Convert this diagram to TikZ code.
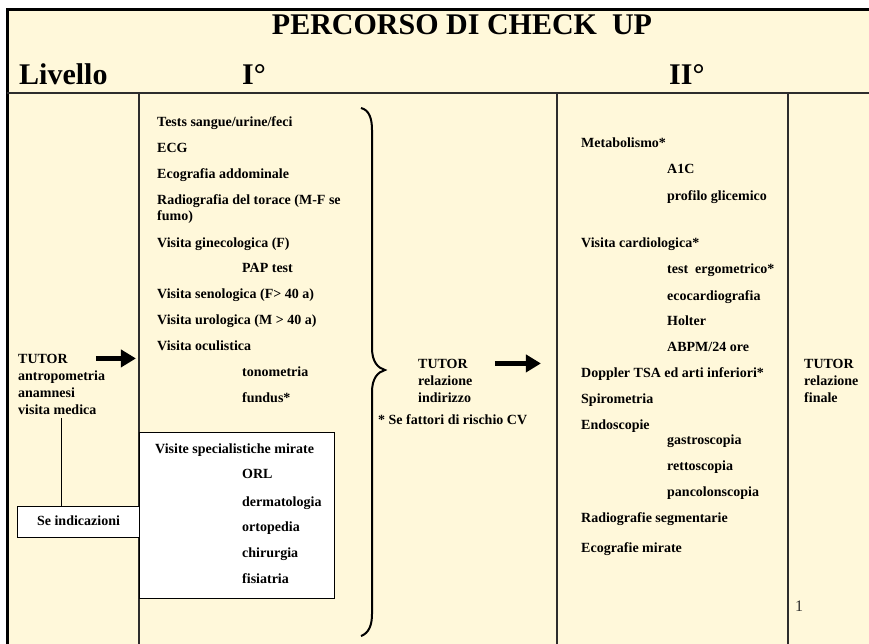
\documentclass[tikz,border=0pt]{standalone}
\usepackage{fontspec}
\setmainfont{Liberation Serif}
\usetikzlibrary{arrows.meta,positioning}
\definecolor{cream}{RGB}{255,248,218}
\definecolor{rulegrey}{RGB}{45,45,45}
\tikzset{
    item/.style={anchor=base west,inner sep=0pt,font=\fontsize{14}{16}\selectfont\bfseries},
    headtext/.style={anchor=base west,inner sep=0pt,font=\fontsize{30}{34}\selectfont\bfseries},
    whitebox/.style={draw=black,line width=1pt,fill=white,inner sep=0pt},
    bigarrow/.style={line width=5pt,-{Triangle[length=15pt,width=17pt]}},
    colrule/.style={draw=rulegrey,line width=1.5pt}
}
\begin{document}
\begin{tikzpicture}[x=1pt,y=-1pt]
\clip (0,0) rectangle (869,643);
\fill[white] (0,0) rectangle (869,643);
\fill[cream] (7,9) rectangle (880,660);
% frame and rules
\draw[line width=3pt] (7,660) -- (7,9) -- (880,9);
\draw[colrule,line width=2pt] (7,93) -- (880,93);
\draw[colrule] (139,93) -- (139,660);
\draw[colrule] (557,93) -- (557,660);
\draw[colrule] (788,93) -- (788,660);
% header
\node[headtext,anchor=base] (title) at (462,34) {PERCORSO DI CHECK\ \ UP};
\node[headtext] (livello) at (19,84) {Livello};
\node[headtext] (lev1) at (242,84) {I°};
\node[headtext] (lev2) at (669,84) {II°};
% first column
\foreach \y/\t [count=\i] in {363/TUTOR,380/antropometria,397/anamnesi,414/visita medica}
    \node[item] (tut-\i) at (18,\y) {\t};
\node[whitebox,item,anchor=north west,minimum width=122pt,minimum height=31pt] (seind) at (17,506) {};
\node[item,anchor=base] (seindtext) at (seind.center |- 0,525) {Se indicazioni};
\coordinate (tap) at (61,418);
\draw[line width=1pt] (tap) -- (tap |- seind.north);
\draw[bigarrow] ([xshift=28pt]tut-1.east) -- ([xshift=68pt]tut-1.east);
% level I
\foreach \y/\x/\t [count=\i] in {126/157/{Tests sangue/urine/feci},152/157/ECG,178/157/Ecografia addominale,
    204/157/{Radiografia del torace (M-F se},220/157/fumo),247/157/Visita ginecologica (F),272/242/PAP test,
    298/157/Visita senologica (F> 40 a),324/157/Visita urologica (M > 40 a),350/157/Visita oculistica,
    376/242/tonometria,402/242/fundus*}
    \node[item] (one-\i) at (\x,\y) {\t};
\node[whitebox,anchor=north west,minimum width=195pt,minimum height=166pt] (visbox) at (139,432) {};
\node[item] (vis-0) at (155,453) {Visite specialistiche mirate};
\foreach \y/\t [count=\i] in {478/ORL,506/dermatologia,531/ortopedia,557/chirurgia,583/fisiatria}
    \node[item] (vis-\i) at (242,\y) {\t};
% brace
\draw[line width=2pt] (361,108) .. controls (369,110) and (372,118) .. (372,130) -- (372,348)
    .. controls (372,362) and (378,368) .. (385,370) .. controls (378,372) and (372,378) .. (372,392)
    -- (372,614) .. controls (372,625) and (369,633) .. (361,636);
\foreach \y/\t [count=\i] in {368/TUTOR,385/relazione,402/indirizzo}
    \node[item] (rel-\i) at (418,\y) {\t};
\draw[bigarrow] ([xshift=27pt]rel-1.east) -- ([xshift=73pt]rel-1.east);
\node[item] (note) at (378,424) {* Se fattori di rischio CV};
% level II
\foreach \y/\x/\t [count=\i] in {147/581/Metabolismo*,173/667/A1C,200/667/profilo glicemico,
    247/581/Visita cardiologica*,273/667/test~\ ergometrico*,300/667/ecocardiografia,325/667/Holter,
    351/667/{ABPM/24 ore},377/581/Doppler TSA ed arti inferiori*,403/581/Spirometria,429/581/Endoscopie,
    444/667/gastroscopia,470/667/rettoscopia,496/667/pancolonscopia,522/581/Radiografie segmentarie,
    552/581/Ecografie mirate}
    \node[item] (two-\i) at (\x,\y) {\t};
% last column
\foreach \y/\t [count=\i] in {368/TUTOR,385/relazione,402/finale}
    \node[item] (fin-\i) at (804,\y) {\t};
\node[anchor=base west,inner sep=0pt,font=\fontsize{16}{18}\selectfont,text=rulegrey] (pagenum) at (795,611) {1};
\end{tikzpicture}
\end{document}
